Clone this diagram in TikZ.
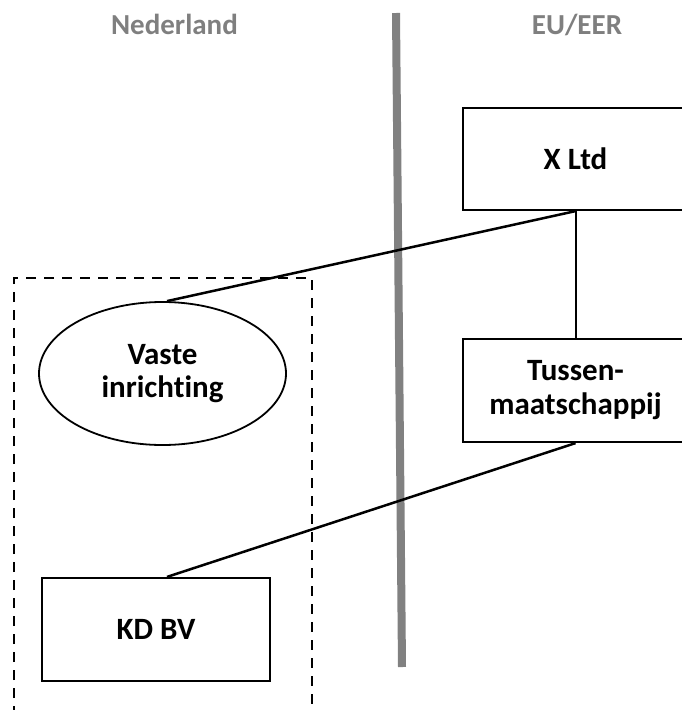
\documentclass[tikz,border=0pt]{standalone}
\usepackage{fontspec}
\setmainfont{Carlito}[Ligatures=NoCommon]
\usetikzlibrary{shapes.geometric,calc}
\definecolor{dividergray}{HTML}{818181}
\definecolor{headgray}{HTML}{7F7F7F}
\begin{document}
\begin{tikzpicture}[x=1pt,y=-1pt,
  entity/.style={draw=black,line width=2.2pt,rectangle,inner sep=0pt,
    font=\fontsize{31}{34}\selectfont\bfseries,align=center},
  branch/.style={draw=black,line width=1.8pt,ellipse,inner sep=0pt,
    font=\fontsize{31}{33}\selectfont\bfseries,align=center},
  header/.style={text=headgray,inner sep=0pt,anchor=base,
    font=\fontsize{29}{34}\selectfont\bfseries},
  link/.style={draw=black,line width=2.5pt},
  thinlink/.style={draw=black,line width=2pt},
  divider/.style={draw=dividergray,line width=8pt},
  frame/.style={draw=black,line width=2.4pt,dash pattern=on 10pt off 8pt}]
\useasboundingbox (0,0) rectangle (682,710);

% region headings
\node[header] (nl) at (174.5,34) {Nederland};
\node[header] (eu) at (577,34) {EU/EER};

% border between the two regions
\coordinate (dtop) at (396,13);
\coordinate (dbot) at (402,667);
\draw[divider] (dtop) -- (dbot);

% dashed outline around the Dutch part
\coordinate (fa) at (14,716);
\coordinate (fb) at (14,278);
\coordinate (fc) at (312,278);
\coordinate (fd) at (312,716);
\draw[frame] (fa) -- (fb) -- (fc) -- (fd);

% entities
\node[entity,minimum width=225pt,minimum height=102pt] (xltd) at (575.5,159) {X Ltd};
\node[entity,minimum width=225pt,minimum height=103pt] (tussen) at (575.5,390.5) {Tussen-\\maatschappij};
\node[branch,minimum width=247pt,minimum height=143pt] (vi) at (162.5,373.5) {Vaste\\inrichting};
\node[entity,minimum width=228pt,minimum height=103pt] (kdbv) at (156,629.5) {KD BV};

% connections
\draw[thinlink] (xltd.south) -- (tussen.north);
\draw[link] (xltd.south) -- ([xshift=4.5pt]vi.north);
\draw[link] (tussen.south) -- ([xshift=11pt]kdbv.north);
\end{tikzpicture}
\end{document}
